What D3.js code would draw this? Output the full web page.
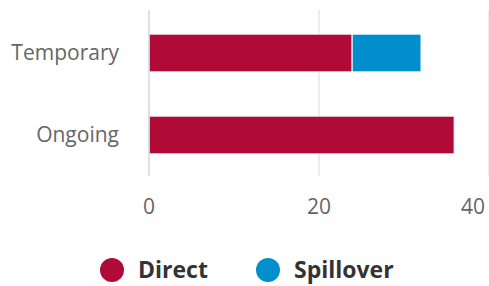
<!DOCTYPE html>
<html>
<head>
<meta charset="utf-8">
<script src="https://cdn.jsdelivr.net/npm/d3@7"></script>
<style>
  body { margin: 0; background: #fff; font-family: "Open Sans", sans-serif; }
</style>
</head>
<body>
<div id="chart"></div>
<script>
const categories = ["Temporary", "Ongoing"];
const seriesNames = ["Direct", "Spillover"];
const direct = [23.9, 35.9];
const spillover = [8.1, 0];
const xTicks = [0, 20, 40];
const colors = ["#b00a36", "#008fcc"];

const width = 489, height = 286;
const margin = {top: 10, right: 0, bottom: 110, left: 149};

const svg = d3.select("#chart").append("svg")
    .attr("width", width)
    .attr("height", height);

const x = d3.scaleLinear()
    .domain([0, 40])
    .range([margin.left, width - margin.right]);

const y = d3.scaleBand()
    .domain(categories)
    .range([12, 176])
    .paddingInner(0.54)
    .paddingOuter(0.27);

// gridlines
svg.append("g")
  .selectAll("line")
  .data(xTicks.slice(1))
  .join("line")
    .attr("x1", d => x(d)).attr("x2", d => x(d))
    .attr("y1", margin.top).attr("y2", height - margin.bottom)
    .attr("stroke", "#e6e6e6")
    .attr("stroke-width", 1.5);

// stacked bars
const rows = categories.map((c, i) => ({cat: c, Direct: direct[i], Spillover: spillover[i]}));
const stack = d3.stack().keys(seriesNames)(rows);

svg.append("g")
  .selectAll("g")
  .data(stack)
  .join("g")
    .attr("fill", (d, i) => colors[i])
  .selectAll("rect")
  .data(d => d.filter(p => p[1] - p[0] > 0))
  .join("rect")
    .attr("x", d => x(d[0]))
    .attr("y", d => y(d.data.cat))
    .attr("width", d => x(d[1]) - x(d[0]))
    .attr("height", y.bandwidth())
    .attr("stroke", "#fff")
    .attr("stroke-width", 1);

// y axis line
svg.append("line")
    .attr("x1", x(0)).attr("x2", x(0))
    .attr("y1", margin.top).attr("y2", height - margin.bottom)
    .attr("stroke", "#ccd6eb")
    .attr("stroke-width", 1.5);

// category labels
svg.append("g")
  .selectAll("text")
  .data(categories)
  .join("text")
    .attr("x", 119)
    .attr("y", d => y(d) + y.bandwidth() / 2)
    .attr("dy", "0.35em")
    .attr("text-anchor", "end")
    .attr("fill", "#666")
    .style("font-size", "21px")
    .text(d => d);

// x tick labels
svg.append("g")
  .selectAll("text")
  .data(xTicks)
  .join("text")
    .attr("x", (d, i) => i === xTicks.length - 1 ? 485 : x(d))
    .attr("y", 214)
    .attr("text-anchor", (d, i) => i === xTicks.length - 1 ? "end" : "middle")
    .attr("fill", "#666")
    .style("font-size", "21px")
    .text(d => d);

// legend
const legendX = [112, 268];
const legend = svg.append("g")
  .selectAll("g")
  .data(seriesNames)
  .join("g")
    .attr("transform", (d, i) => `translate(${legendX[i]}, 270)`);

legend.append("circle")
    .attr("r", 12)
    .attr("fill", (d, i) => colors[i]);

legend.append("text")
    .attr("x", 26)
    .attr("dy", "0.35em")
    .attr("fill", "#333")
    .style("font-size", "23px")
    .style("font-weight", "bold")
    .text(d => d);
</script>
</body>
</html>
